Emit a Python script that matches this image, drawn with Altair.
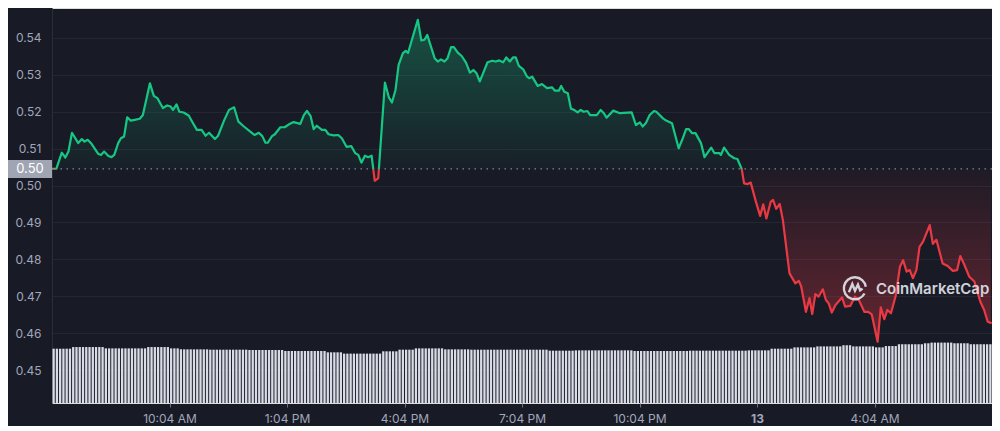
import altair as alt
import pandas as pd

# ---------------- data ----------------
# hours since the window opened (7:04 AM), and the price at that moment
hours = [
    0.00, 0.11, 0.25, 0.34, 0.42, 0.51, 0.67, 0.76, 0.83, 0.91, 1.01, 1.18, 1.25, 1.33, 1.44,
    1.52, 1.59, 1.69, 1.76, 1.84, 1.92, 2.01, 2.11, 2.24, 2.32, 2.50, 2.60, 2.69, 2.83, 2.94,
    3.03, 3.09, 3.18, 3.25, 3.36, 3.49, 3.59, 3.70, 3.82, 3.92, 4.01, 4.16, 4.24, 4.40, 4.52,
    4.65, 4.76, 4.90, 5.11, 5.17, 5.28, 5.37, 5.45, 5.51, 5.61, 5.69, 5.83, 5.94, 6.05, 6.17,
    6.34, 6.43, 6.51, 6.60, 6.68, 6.76, 6.89, 6.98, 7.06, 7.19, 7.31, 7.40, 7.52, 7.64, 7.74,
    7.82, 7.90, 7.99, 8.07, 8.16, 8.24, 8.33, 8.50, 8.60, 8.68, 8.77, 8.85, 8.96, 9.03, 9.09,
    9.34, 9.43, 9.51, 9.58, 9.77, 9.85, 9.93, 10.02, 10.10, 10.19, 10.26, 10.36, 10.46, 10.57, 10.67,
    10.76, 10.84, 10.92, 10.99, 11.12, 11.24, 11.33, 11.42, 11.52, 11.60, 11.69, 11.77, 11.84, 11.92, 12.03,
    12.13, 12.18, 12.26, 12.40, 12.51, 12.64, 12.77, 12.84, 12.94, 13.00, 13.08, 13.17, 13.25, 13.33, 13.42,
    13.50, 13.57, 13.67, 13.74, 13.91, 14.01, 14.09, 14.16, 14.33, 14.50, 14.80, 14.91, 15.01, 15.08, 15.16,
    15.26, 15.37, 15.43, 15.60, 15.68, 15.83, 16.00, 16.09, 16.19, 16.26, 16.34, 16.43, 16.57, 16.66, 16.83,
    16.91, 17.04, 17.08, 17.16, 17.29, 17.42, 17.50, 17.61, 17.67, 17.76, 17.84, 17.97, 18.08, 18.16, 18.24,
    18.35, 18.41, 18.49, 18.58, 18.66, 18.83, 18.98, 19.07, 19.13, 19.25, 19.34, 19.41, 19.49, 19.57, 19.68,
    19.76, 19.83, 19.91, 20.00, 20.17, 20.25, 20.38, 20.50, 20.60, 20.74, 20.84, 20.93, 21.08, 21.16, 21.25,
    21.33, 21.42, 21.54, 21.65, 21.73, 21.82, 21.90, 21.98, 22.07, 22.15, 22.24, 22.41, 22.49, 22.58, 22.74,
    22.87, 23.00, 23.11, 23.19, 23.28, 23.42, 23.55, 23.70, 23.80, 23.89, 23.97,
]
prices = [
    0.5045, 0.5045, 0.5089, 0.5076, 0.5092, 0.5143, 0.5115, 0.5126, 0.5119, 0.5124, 0.5113, 0.5086, 0.5083, 0.5092, 0.5080,
    0.5077, 0.5083, 0.5115, 0.5128, 0.5133, 0.5185, 0.5176, 0.5178, 0.5181, 0.5191, 0.5277, 0.5243, 0.5237, 0.5210, 0.5217,
    0.5214, 0.5205, 0.5220, 0.5200, 0.5198, 0.5190, 0.5171, 0.5151, 0.5151, 0.5135, 0.5143, 0.5126, 0.5135, 0.5178, 0.5205,
    0.5212, 0.5173, 0.5160, 0.5142, 0.5137, 0.5143, 0.5134, 0.5116, 0.5116, 0.5133, 0.5139, 0.5158, 0.5158, 0.5166, 0.5172,
    0.5167, 0.5191, 0.5202, 0.5189, 0.5153, 0.5162, 0.5151, 0.5151, 0.5139, 0.5136, 0.5137, 0.5128, 0.5105, 0.5107, 0.5088,
    0.5083, 0.5062, 0.5081, 0.5077, 0.5081, 0.5013, 0.5020, 0.5279, 0.5239, 0.5225, 0.5259, 0.5327, 0.5359, 0.5365, 0.5359,
    0.5449, 0.5393, 0.5395, 0.5408, 0.5345, 0.5336, 0.5342, 0.5336, 0.5345, 0.5375, 0.5375, 0.5360, 0.5351, 0.5333, 0.5306,
    0.5313, 0.5304, 0.5282, 0.5300, 0.5334, 0.5338, 0.5336, 0.5339, 0.5334, 0.5347, 0.5336, 0.5347, 0.5347, 0.5324, 0.5315,
    0.5295, 0.5291, 0.5295, 0.5270, 0.5275, 0.5264, 0.5266, 0.5257, 0.5257, 0.5270, 0.5254, 0.5250, 0.5208, 0.5205, 0.5198,
    0.5205, 0.5200, 0.5202, 0.5191, 0.5191, 0.5205, 0.5196, 0.5184, 0.5203, 0.5196, 0.5198, 0.5164, 0.5171, 0.5160, 0.5169,
    0.5191, 0.5202, 0.5200, 0.5182, 0.5176, 0.5169, 0.5101, 0.5124, 0.5153, 0.5153, 0.5142, 0.5142, 0.5115, 0.5077, 0.5103,
    0.5088, 0.5088, 0.5083, 0.5103, 0.5083, 0.5074, 0.5072, 0.5045, 0.5006, 0.5004, 0.5008, 0.4957, 0.4918, 0.4949, 0.4911,
    0.4956, 0.4961, 0.4937, 0.4950, 0.4907, 0.4762, 0.4735, 0.4742, 0.4726, 0.4658, 0.4695, 0.4652, 0.4706, 0.4699, 0.4719,
    0.4690, 0.4681, 0.4656, 0.4676, 0.4697, 0.4672, 0.4674, 0.4699, 0.4690, 0.4658, 0.4658, 0.4651, 0.4577, 0.4670, 0.4638,
    0.4663, 0.4654, 0.4701, 0.4780, 0.4798, 0.4767, 0.4771, 0.4749, 0.4771, 0.4834, 0.4848, 0.4893, 0.4842, 0.4853, 0.4789,
    0.4782, 0.4769, 0.4771, 0.4809, 0.4789, 0.4753, 0.4740, 0.4686, 0.4663, 0.4631, 0.4628,
]
open_price = 0.5045

# volume bars, one per 5 minutes (288 bars)
volume = [
    33.0, 33.0, 33.0, 33.0, 33.0, 33.0,
    34.0, 34.0, 34.0, 34.0, 34.0, 34.0, 34.0, 34.0, 34.0, 34.0,
    33.2, 33.2, 33.2, 33.2, 33.2, 33.2, 33.2, 33.2, 33.2, 33.2, 33.2, 33.2, 33.2,
    34.0, 34.0, 34.0, 34.0, 34.0, 34.0, 34.0,
    33.2, 33.2, 33.2,
    32.6, 32.6, 32.6, 32.6, 32.6, 32.6, 32.6, 32.6, 32.6,
    32.4, 32.4, 32.4, 32.4, 32.4, 32.4, 32.4, 32.4, 32.4, 32.4, 32.4, 32.4,
    32.2, 32.2, 32.2, 32.2, 32.2, 32.2, 32.2, 32.2, 32.2, 32.2, 32.2,
    31.6, 31.6, 31.6, 31.6, 31.6, 31.6, 31.6, 31.6, 31.6, 31.6, 31.6, 31.6, 31.6,
    30.8, 30.8, 30.8, 30.8, 30.8,
    30.0, 30.0, 30.0, 30.0, 30.0, 30.0, 30.0, 30.0, 30.0, 30.0, 30.0, 30.0,
    31.4, 31.4, 31.4, 31.4, 31.4,
    32.4, 32.4, 32.4, 32.4, 32.4,
    33.2, 33.2, 33.2, 33.2, 33.2, 33.2, 33.2, 33.2, 33.2,
    32.6, 32.6, 32.6, 32.6, 32.6, 32.6, 32.6, 32.6,
    32.4, 32.4, 32.4, 32.4, 32.4, 32.4, 32.4, 32.4, 32.4, 32.4, 32.4, 32.4,
    32.4, 32.4, 32.4, 32.4, 32.4, 32.4, 32.4, 32.4, 32.4, 32.4, 32.4, 32.4,
    31.8, 31.8, 31.8, 31.8, 31.8, 31.8, 31.8, 31.8,
    32.0, 32.0, 32.0, 32.0, 32.0, 32.0, 32.0, 32.0, 32.0, 32.0, 32.0, 32.0, 32.0, 32.0, 32.0, 32.0, 32.0, 32.0,
    31.6, 31.6, 31.6, 31.6, 31.6, 31.6, 31.6, 31.6, 31.6, 31.6, 31.6, 31.6, 31.6, 31.6, 31.6, 31.6, 31.6,
    31.8, 31.8, 31.8, 31.8, 31.8, 31.8, 31.8, 31.8, 31.8, 31.8, 31.8, 31.8, 31.8, 31.8, 31.8, 31.8, 31.8, 31.8,
    32.0, 32.0, 32.0, 32.0, 32.0, 32.0, 32.0,
    33.0, 33.0, 33.0, 33.0, 33.0, 33.0, 33.0,
    33.8, 33.8, 33.8, 33.8, 33.8, 33.8, 33.8,
    34.4, 34.4, 34.4, 34.4, 34.4, 34.4, 34.4, 34.4,
    35.1, 35.1, 35.1,
    34.4, 34.4, 34.4, 34.4, 34.4, 34.4, 34.4,
    33.8, 33.8, 33.8,
    34.6, 34.6, 34.6, 34.6,
    35.7, 35.7, 35.7, 35.7, 35.7, 35.7, 35.7, 35.7,
    36.3, 36.3,
    36.7, 36.7, 36.7, 36.7, 36.7, 36.7, 36.7,
    36.3, 36.3, 36.3, 36.3, 36.3,
    35.7, 35.7, 35.7, 35.7, 35.7, 35.7, 35.7,
]

x_tick_hours = [3, 6, 9, 12, 15, 18, 21]
x_tick_labels = ["10:04 AM", "1:04 PM", "4:04 PM", "7:04 PM", "10:04 PM", "13", "4:04 AM"]
y_ticks = [0.45, 0.46, 0.47, 0.48, 0.49, 0.50, 0.51, 0.52, 0.53, 0.54]
open_label = "0.50"
watermark = "CoinMarketCap"

# ---------------- styling ----------------
BG = "#181a25"
GREEN = "#16c784"
RED = "#ea3943"
AXIS_TEXT = "#a1a7bb"
GRID = "#232633"

price_df = pd.DataFrame({"h": hours, "price": prices})
price_df["base"] = open_price
bar_hours = [(i + 0.5) * 24 / len(volume) for i in range(len(volume))]
vol_df = pd.DataFrame({"h": bar_hours, "vol": volume})
open_df = pd.DataFrame({"p": [open_price]})

pmax, pmin = max(prices), min(prices)
split = (pmax - open_price) / (pmax - pmin)

x_scale = alt.Scale(domain=[0, 24], nice=False, zero=False, padding=0)
y_scale = alt.Scale(domain=[0.4411, 0.5481], nice=False, zero=False)

label_expr = "[" + ",".join("'%s'" % s for s in x_tick_labels) + "][round(datum.value/3)-1]"
x_axis = alt.Axis(
    values=x_tick_hours, labelExpr=label_expr, grid=False, domain=False,
    ticks=True, tickSize=4, tickColor="#6a6f80", labelColor=AXIS_TEXT,
    labelFontSize=12, labelPadding=6, title=None,
    labelFontWeight={"condition": {"test": "datum.value == 18", "value": "bold"}, "value": "normal"},
)
y_axis = alt.Axis(
    values=y_ticks, format=".2f", grid=True, gridColor=GRID, gridWidth=1,
    domain=True, domainColor="#2a2d3a", ticks=False, labelPadding=11,
    labelColor=AXIS_TEXT, labelFontSize=12, title=None,
)

X = alt.X("h:Q", scale=x_scale, axis=x_axis, title=None)

bars = alt.Chart(vol_df).mark_bar(width=2.3, color="#d9dce5").encode(
    x=X,
    y=alt.Y("vol:Q", scale=alt.Scale(domain=[0, 240], padding=0), axis=None),
)

area_grad = alt.Gradient(
    gradient="linear", x1=0, x2=0, y1=0, y2=1,
    stops=[
        alt.GradientStop(color="rgba(22,199,132,0.32)", offset=0),
        alt.GradientStop(color="rgba(22,199,132,0.03)", offset=split),
        alt.GradientStop(color="rgba(234,57,67,0.03)", offset=split),
        alt.GradientStop(color="rgba(234,57,67,0.36)", offset=1),
    ],
)
line_grad = alt.Gradient(
    gradient="linear", x1=0, x2=0, y1=0, y2=1,
    stops=[
        alt.GradientStop(color=GREEN, offset=0),
        alt.GradientStop(color=GREEN, offset=split),
        alt.GradientStop(color=RED, offset=split),
        alt.GradientStop(color=RED, offset=1),
    ],
)

Y = alt.Y("price:Q", scale=y_scale, axis=y_axis, title=None)

area = alt.Chart(price_df).mark_area(color=area_grad).encode(x=X, y=Y, y2="base:Q")

base_rule = alt.Chart(open_df).mark_rule(
    color="#80859a", strokeDash=[1.5, 4.5], strokeWidth=1.2
).encode(y=alt.Y("p:Q", scale=y_scale, axis=y_axis, title=None))

line = alt.Chart(price_df).mark_line(
    stroke=line_grad, strokeWidth=2.2, strokeJoin="round", strokeCap="round"
).encode(x=X, y=Y)

label_box = alt.Chart(open_df).mark_rect(color="#a0a5b3", yOffset=-9, y2Offset=9).encode(
    x=alt.value(-44), x2=alt.value(0),
    y=alt.Y("p:Q", scale=y_scale, axis=y_axis, title=None), y2="p:Q",
)
label_text = alt.Chart(open_df).mark_text(
    text=open_label, color="#ffffff", fontSize=13, align="center", baseline="middle"
).encode(x=alt.value(-22), y=alt.Y("p:Q", scale=y_scale, axis=y_axis, title=None))

logo_path = ("M 0.78 0.45 A 0.9 0.9 0 1 1 0.88 -0.1 "
             "M -0.5 0.35 L -0.22 -0.33 L 0.0 0.22 L 0.24 -0.28 L 0.42 0.2 L 0.62 0.05")
logo = alt.Chart(open_df).mark_point(
    shape=logo_path, size=600, filled=False, color="#e3e6ee", strokeWidth=2.4, opacity=0.9
).encode(x=alt.value(803), y=alt.value(280))
brand = alt.Chart(open_df).mark_text(
    text=watermark, fontSize=15, fontWeight=600, color="#e3e6ee", opacity=0.9,
    align="left", baseline="middle",
).encode(x=alt.value(824), y=alt.value(281))

price_layer = alt.layer(area, base_rule, line, label_box, label_text, logo, brand)

chart = alt.layer(bars, price_layer).resolve_scale(y="independent").properties(
    width=940, height=395,
    autosize=alt.AutoSizeParams(type="none"),
    padding={"left": 44, "top": 0, "right": 0, "bottom": 23},
    background=BG,
).configure_view(stroke=None).configure(font="Inter")

chart.save("out.html", embed_options={"renderer": "svg", "actions": False})
